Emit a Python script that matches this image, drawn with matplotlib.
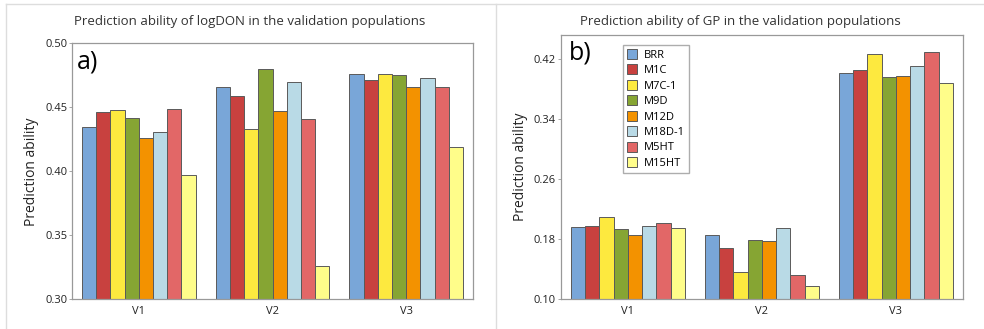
import matplotlib.pyplot as plt
import numpy as np
from matplotlib.lines import Line2D
from matplotlib.patches import Patch

plt.rcParams['font.family'] = ['Open Sans', 'DejaVu Sans']

groups = ['V1', 'V2', 'V3']
models = ['BRR', 'M1C', 'M7C-1', 'M9D', 'M12D', 'M18D-1', 'M5HT', 'M15HT']
colors = ['#79a6d8', '#c8413f', '#fde93f', '#86a533', '#f39200', '#b9dae6', '#e26767', '#fffd8a']

# a) logDON, rows = models, cols = V1, V2, V3
don_vals = [
    [0.435, 0.466, 0.476],
    [0.446, 0.459, 0.471],
    [0.448, 0.433, 0.476],
    [0.442, 0.480, 0.475],
    [0.426, 0.447, 0.466],
    [0.431, 0.470, 0.473],
    [0.449, 0.441, 0.466],
    [0.397, 0.326, 0.419],
]

# b) GP
gp_vals = [
    [0.196, 0.185, 0.402],
    [0.198, 0.169, 0.405],
    [0.210, 0.136, 0.427],
    [0.193, 0.179, 0.396],
    [0.185, 0.178, 0.397],
    [0.198, 0.195, 0.411],
    [0.201, 0.132, 0.429],
    [0.195, 0.118, 0.388],
]

fig = plt.figure(figsize=(9.84, 3.29), dpi=100)
ax1 = fig.add_axes([0.0732, 0.0903, 0.4075, 0.778])
ax2 = fig.add_axes([0.5701, 0.0903, 0.4085, 0.803])

x = np.arange(len(groups))
n = len(models)
bw = 0.85 / n


def draw(ax, vals, ylim, yticks):
    for i, m in enumerate(models):
        ax.bar(x - 0.425 + bw * (i + 0.5), vals[i], bw, bottom=0,
               color=colors[i], edgecolor='#5a5a5a', linewidth=0.7, label=m)
    ax.set_xlim(-0.5, 2.5)
    ax.set_ylim(*ylim)
    ax.set_xticks(x)
    ax.set_xticklabels(groups)
    ax.set_yticks(yticks)
    ax.set_yticklabels(['%.2f' % t for t in yticks])
    ax.tick_params(axis='both', labelsize=8, labelcolor='#222222', width=0.6)
    ax.tick_params(axis='x', length=0, pad=5)
    ax.tick_params(axis='y', color='#999999', length=2, pad=1.5)
    for s in ax.spines.values():
        s.set_color('#999999')
        s.set_linewidth(0.9)
    ax.set_ylabel('Prediction ability', fontsize=10, color='#222222', labelpad=4)


draw(ax1, don_vals, (0.30, 0.50), [0.30, 0.35, 0.40, 0.45, 0.50])
draw(ax2, gp_vals, (0.10, 0.452), [0.10, 0.18, 0.26, 0.34, 0.42])

ax1.text(0.012, 0.975, 'a)', transform=ax1.transAxes, fontsize=18, va='top', ha='left')
ax2.text(0.02, 0.98, 'b)', transform=ax2.transAxes, fontsize=18, va='top', ha='left')

handles = [Patch(facecolor=c, edgecolor='#5a5a5a', linewidth=0.7) for c in colors]
ax2.legend(handles, models, loc='upper left', bbox_to_anchor=(0.155, 0.962),
           prop={'size': 8}, frameon=True, edgecolor='#999999', fancybox=False,
           handlelength=0.9, handleheight=1.0, handletextpad=0.6,
           labelspacing=0.33, borderpad=0.35, borderaxespad=0)

fig.text(0.254, 0.936, 'Prediction ability of logDON in the validation populations',
         ha='center', va='center', fontsize=9.5, color='#333333')
fig.text(0.752, 0.936, 'Prediction ability of GP in the validation populations',
         ha='center', va='center', fontsize=9.5, color='#333333')

# panel frames
fig.add_artist(Line2D([0.006, 1.0], [0.988, 0.988], color='#dddddd', lw=1))
fig.add_artist(Line2D([0.006, 0.006], [0.0, 0.988], color='#dddddd', lw=1))
fig.add_artist(Line2D([0.5037, 0.5037], [0.0, 0.988], color='#dddddd', lw=1))

fig.savefig('out.png', dpi=100)
